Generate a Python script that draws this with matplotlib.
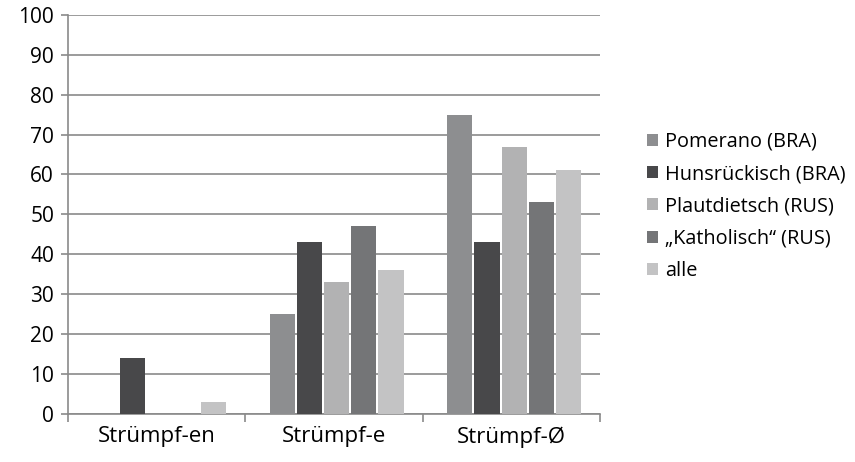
import numpy as np
import matplotlib.pyplot as plt

plt.rcParams['font.family'] = ['Open Sans', 'DejaVu Sans']

categories = ["Strümpf-en", "Strümpf-e", "Strümpf-Ø"]
series = ["Pomerano (BRA)", "Hunsrückisch (BRA)", "Plautdietsch (RUS)",
          "„Katholisch“ (RUS)", "alle"]
pomerano = [0, 25, 75]
hunsrueckisch = [14, 43, 43]
plautdietsch = [0, 33, 67]
katholisch = [0, 47, 53]
alle = [3, 36, 61]
values = [pomerano, hunsrueckisch, plautdietsch, katholisch, alle]
colors = ["#8d8e90", "#48484a", "#b2b2b3", "#747577", "#c3c3c4"]

fig = plt.figure(figsize=(8.55, 4.62), dpi=100)
ax = fig.add_axes([0.0795, 0.104, 0.6225, 0.864])

x = np.arange(len(categories))
width = 0.142
step = 0.153
for i, (name, vals, c) in enumerate(zip(series, values, colors)):
    offs = (i - 2) * step + 0.015
    ax.bar(x + offs, vals, width, color=c, label=name, zorder=3)

ax.set_xlim(-0.5, 2.5)
ax.set_ylim(0, 100)
ax.set_yticks(range(0, 101, 10))
ax.yaxis.grid(True, color="#8a8a8a", linewidth=1.2, zorder=0)
ax.set_axisbelow(True)

ax.set_xticks(x)
ax.set_xticklabels(categories)
ax.set_xticks([-0.5, 0.5, 1.5, 2.5], minor=True)
ax.tick_params(axis="x", which="major", length=0, pad=9, labelsize=16)
ax.tick_params(axis="x", which="minor", length=6, color="#8a8a8a", width=1.2)
ax.tick_params(axis="y", length=5, color="#8a8a8a", width=1.2, labelsize=15, pad=5)

for s in ["top", "right"]:
    ax.spines[s].set_visible(False)
for s in ["left", "bottom"]:
    ax.spines[s].set_color("#8a8a8a")
    ax.spines[s].set_linewidth(1.2)

ax.legend(loc="center left", bbox_to_anchor=(1.07, 0.52), frameon=False,
          fontsize=14.3, handlelength=0.55, handleheight=0.55, handletextpad=0.35,
          labelspacing=0.62, borderpad=0)

fig.savefig("out.png", dpi=100)
